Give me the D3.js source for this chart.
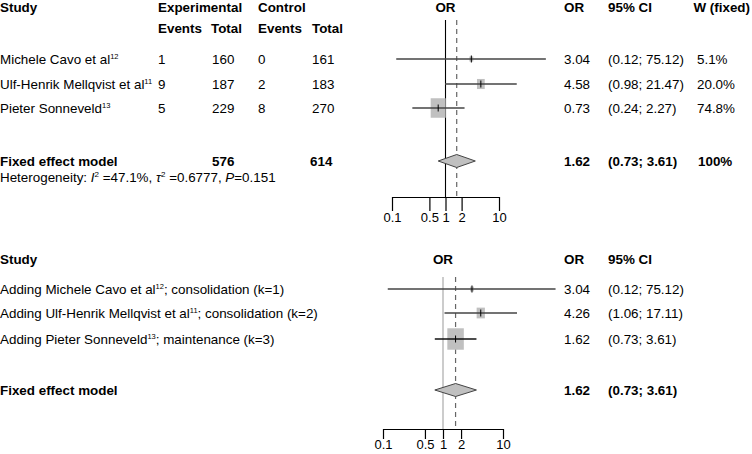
<!DOCTYPE html>
<html><head><meta charset="utf-8">
<script src="https://cdn.jsdelivr.net/npm/d3@7/dist/d3.min.js"></script>
<style>
body{margin:0;background:#fff;}
text{font-family:"Liberation Sans",Arial,sans-serif;font-size:13.4px;fill:#000;}
.b{font-weight:bold;}
</style></head><body>
<svg id="c" width="752" height="454"></svg>
<script>
// ---- data ----
const studies = ["Michele Cavo et al", "Ulf-Henrik Mellqvist et al", "Pieter Sonneveld"];
const refs = ["12", "11", "13"];
const expEvents = [1, 9, 5];
const expTotal = [160, 187, 229];
const ctrlEvents = [0, 2, 8];
const ctrlTotal = [161, 183, 270];
const orVal = [3.04, 4.58, 0.73];
const ciLow = [0.12, 0.98, 0.24];
const ciHigh = [75.12, 21.47, 2.27];
const weightFixed = [5.1, 20.0, 74.8];
const pooled = {or: 1.62, lo: 0.73, hi: 3.61, expN: 576, ctrlN: 614, w: "100%"};
const hetI2 = "47.1%", hetTau2 = "0.6777", hetP = "0.151";

const cumLabels = ["; consolidation (k=1)", "; consolidation (k=2)", "; maintenance (k=3)"];
const cumNames = ["Adding Michele Cavo et al", "Adding Ulf-Henrik Mellqvist et al", "Adding Pieter Sonneveld"];
const cumOr = [3.04, 4.26, 1.62];
const cumLow = [0.12, 1.06, 0.73];
const cumHigh = [75.12, 17.11, 3.61];
const cumWeight = [5.1, 25.1, 100];

const tickVals = [0.1, 0.5, 1, 2, 10];
const tickLabels = ["0.1", "0.5", "1", "2", "10"];

const fmt2 = d => d.toFixed(2);
const ciTxt = (l, h) => "(" + fmt2(l) + "; " + fmt2(h) + ")";

const svg = d3.select("#c");

function txt(g, x, y, s, cls) {
  return g.append("text").attr("x", x).attr("y", y).attr("dy", "0.35em").attr("class", cls || null).text(s);
}
function withSup(g, x, y, main, sup, tail) {
  const t = g.append("text").attr("x", x).attr("y", y).attr("dy", "0.35em");
  t.append("tspan").text(main);
  t.append("tspan").attr("font-size", "7.5px").attr("dy", "-5").text(sup);
  if (tail) t.append("tspan").attr("dy", "5").text(tail);
  return t;
}

function forest(g, x, rowsY, or, lo, hi, wts, wMax, sizeMax, pooledY, lineTop, axisY, tickLen, pad, refColor, refW, ciColor) {
  g.append("line").attr("x1", x(1)).attr("x2", x(1)).attr("y1", lineTop).attr("y2", axisY)
    .attr("stroke", refColor).attr("stroke-width", refW);
  g.append("line").attr("x1", x(pooled.or)).attr("x2", x(pooled.or)).attr("y1", lineTop).attr("y2", axisY)
    .attr("stroke", "#666").attr("stroke-width", 1.2).attr("stroke-dasharray", "5,4");
  or.forEach((v, i) => {
    const y = rowsY[i];
    const w = sizeMax * Math.sqrt(wts[i] / wMax);
    const h = w * 1.3;
    g.append("rect").attr("x", x(v) - w / 2).attr("y", y - h / 2).attr("width", w).attr("height", h).attr("fill", "#c0c0c0");
    g.append("line").attr("x1", x(lo[i])).attr("x2", x(hi[i])).attr("y1", y).attr("y2", y)
      .attr("stroke", ciColor[i]).attr("stroke-width", 1.6);
    g.append("line").attr("x1", x(v)).attr("x2", x(v)).attr("y1", y - 3.5).attr("y2", y + 3.5)
      .attr("stroke", "#000").attr("stroke-width", 1);
  });
  const dh = 6.5;
  g.append("path").attr("d", `M${x(pooled.lo)},${pooledY} L${x(pooled.or)},${pooledY - dh} L${x(pooled.hi)},${pooledY} L${x(pooled.or)},${pooledY + dh} Z`)
    .attr("fill", "#c0c0c0").attr("stroke", "#444").attr("stroke-width", 1);
  const ax = d3.axisBottom(x).tickValues(tickVals).tickFormat((d, i) => tickLabels[i]).tickSize(tickLen).tickSizeOuter(0).tickPadding(pad);
  const ag = g.append("g").attr("transform", `translate(0,${axisY})`).call(ax);
  ag.select(".domain").attr("stroke", "#000").attr("stroke-width", 1.2);
  ag.selectAll(".tick line").attr("stroke", "#000").attr("stroke-width", 1.2);
  ag.selectAll(".tick text").style("font-size", "13px").style("font-family", "Liberation Sans, Arial, sans-serif").attr("fill", "#000");
}

// ---------------- TOP PANEL ----------------
const topG = svg.append("g");
const xTop = d3.scaleLog().domain([0.1, 10]).range([392, 499]);
const topRows = [59, 84, 108];
txt(topG, 0, 7, "Study", "b");
txt(topG, 158, 7, "Experimental", "b");
txt(topG, 258, 7, "Control", "b");
txt(topG, 158, 28, "Events", "b");
txt(topG, 211, 28, "Total", "b");
txt(topG, 258, 28, "Events", "b");
txt(topG, 312, 28, "Total", "b");
topG.append("text").attr("x", xTop(1)).attr("y", 7).attr("dy", "0.35em").attr("text-anchor", "middle").attr("class", "b").text("OR");
txt(topG, 564, 7, "OR", "b");
txt(topG, 608, 7, "95% CI", "b");
topG.append("text").attr("x", 750).attr("y", 7).attr("dy", "0.35em").attr("text-anchor", "end").attr("class", "b").text("W (fixed)");
studies.forEach((s, i) => {
  const y = topRows[i];
  withSup(topG, 0, y, s, refs[i]);
  txt(topG, 158, y, expEvents[i]);
  txt(topG, 212, y, expTotal[i]);
  txt(topG, 258, y, ctrlEvents[i]);
  txt(topG, 312, y, ctrlTotal[i]);
  txt(topG, 564, y, fmt2(orVal[i]));
  txt(topG, 608, y, ciTxt(ciLow[i], ciHigh[i]));
  txt(topG, 697, y, weightFixed[i].toFixed(1) + "%");
});
txt(topG, 0, 161, "Fixed effect model", "b");
txt(topG, 212, 161, pooled.expN, "b");
txt(topG, 310, 161, pooled.ctrlN, "b");
txt(topG, 564, 161, fmt2(pooled.or), "b");
txt(topG, 608, 161, ciTxt(pooled.lo, pooled.hi), "b");
txt(topG, 698, 161, pooled.w, "b");
const het = topG.append("text").attr("x", 0).attr("y", 177).attr("dy", "0.35em").attr("font-size", "13px");
het.append("tspan").text("Heterogeneity: ");
het.append("tspan").attr("font-style", "italic").text("I");
het.append("tspan").attr("font-size", "8px").attr("dy", "-5").text("2");
het.append("tspan").attr("dy", "5").text(" =" + hetI2 + ", ");
het.append("tspan").attr("font-style", "italic").text("τ");
het.append("tspan").attr("font-size", "8px").attr("dy", "-5").text("2");
het.append("tspan").attr("dy", "5").text(" =" + hetTau2 + ", ");
het.append("tspan").attr("font-style", "italic").text("P");
het.append("tspan").text("=" + hetP);
forest(topG, xTop, topRows, orVal, ciLow, ciHigh, weightFixed, 74.8, 15, 161, 20, 197, 14, 2, "#000", 1.1, ["#444", "#444", "#444"]);

// ---------------- BOTTOM PANEL ----------------
const botG = svg.append("g");
const xBot = d3.scaleLog().domain([0.1, 10]).range([383, 503]);
const botRows = [289, 313, 339];
txt(botG, 0, 259, "Study", "b");
botG.append("text").attr("x", xBot(1)).attr("y", 259).attr("dy", "0.35em").attr("text-anchor", "middle").attr("class", "b").text("OR");
txt(botG, 564, 259, "OR", "b");
txt(botG, 608, 259, "95% CI", "b");
cumNames.forEach((s, i) => {
  const y = botRows[i];
  withSup(botG, 0, y, s, refs[i], cumLabels[i]);
  txt(botG, 564, y, fmt2(cumOr[i]));
  txt(botG, 608, y, ciTxt(cumLow[i], cumHigh[i]));
});
txt(botG, 0, 390, "Fixed effect model", "b");
txt(botG, 564, 390, fmt2(pooled.or), "b");
txt(botG, 608, 390, ciTxt(pooled.lo, pooled.hi), "b");
forest(botG, xBot, botRows, cumOr, cumLow, cumHigh, cumWeight, 100, 16.5, 390, 277, 429, 10, 1, "#999", 1, ["#444", "#444", "#111"]);
</script>
</body></html>
